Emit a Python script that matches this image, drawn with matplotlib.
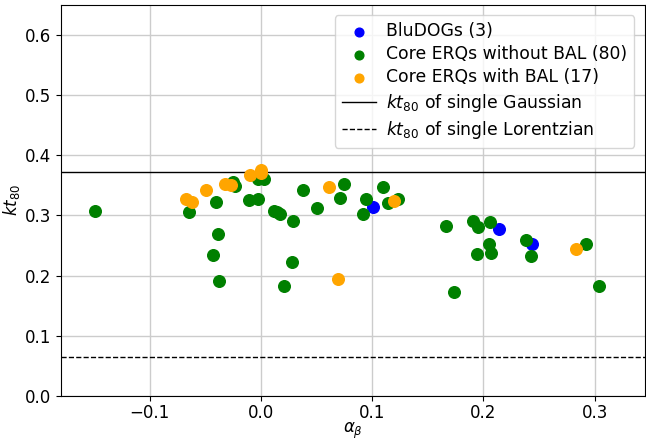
import matplotlib
matplotlib.use('Agg')
import matplotlib.pyplot as plt

# alpha_beta and kt80 values
green_x = [-0.149, -0.065, -0.040, -0.039, -0.043, -0.038, -0.025, -0.023, -0.011, -0.003,
           0.003, -0.003, 0.012, 0.014, 0.017, 0.029, 0.028, 0.021, 0.038, 0.050,
           0.071, 0.075, 0.092, 0.094, 0.110, 0.114, 0.123, 0.166, 0.191, 0.195,
           0.206, 0.205, 0.194, 0.207, 0.238, 0.243, 0.292, 0.304, 0.174]
green_y = [0.308, 0.305, 0.322, 0.269, 0.235, 0.191, 0.356, 0.349, 0.326, 0.360,
           0.360, 0.327, 0.308, 0.306, 0.303, 0.291, 0.222, 0.182, 0.342, 0.313,
           0.329, 0.352, 0.303, 0.327, 0.347, 0.320, 0.328, 0.282, 0.291, 0.281,
           0.289, 0.252, 0.236, 0.237, 0.259, 0.233, 0.252, 0.182, 0.172]

orange_x = [-0.067, -0.062, -0.049, -0.032, -0.027, -0.010, 0.000, 0.000, 0.061, 0.069, 0.120, 0.283]
orange_y = [0.327, 0.323, 0.342, 0.352, 0.351, 0.368, 0.375, 0.371, 0.347, 0.194, 0.324, 0.244]

blue_x = [0.101, 0.214, 0.244]
blue_y = [0.314, 0.277, 0.253]

kt80_gauss = 0.372
kt80_lorentz = 0.064

plt.rcParams['font.size'] = 12

fig = plt.figure(figsize=(6.46, 4.4), dpi=100)
ax = fig.add_axes([0.094, 0.1, 0.904, 0.889])

ax.scatter(blue_x, blue_y, s=70, color='blue', label='BluDOGs (3)', zorder=3)
ax.scatter(green_x, green_y, s=70, color='green', label='Core ERQs without BAL (80)', zorder=3)
ax.scatter(orange_x, orange_y, s=70, color='orange', label='Core ERQs with BAL (17)', zorder=3)
ax.axhline(kt80_gauss, color='black', lw=1, label=r'$kt_{80}$ of single Gaussian')
ax.axhline(kt80_lorentz, color='black', lw=1, ls='--', label=r'$kt_{80}$ of single Lorentzian')

ax.set_xlim(-0.18, 0.345)
ax.set_ylim(0, 0.65)
ax.set_xticks([-0.1, 0.0, 0.1, 0.2, 0.3])
ax.set_yticks([0.0, 0.1, 0.2, 0.3, 0.4, 0.5, 0.6])
ax.tick_params(axis='x', pad=2.5)
ax.grid(True, color='#cccccc', lw=1)
ax.set_axisbelow(True)
ax.set_xlabel(r'$\alpha_\beta$', labelpad=-1)
ax.set_ylabel(r'$kt_{80}$', labelpad=2)
ax.legend(loc='upper right', fontsize=12.4, markerscale=0.75,
          labelspacing=0.3, handletextpad=0.6, borderaxespad=0.6)

fig.savefig('out.png', dpi=100)
